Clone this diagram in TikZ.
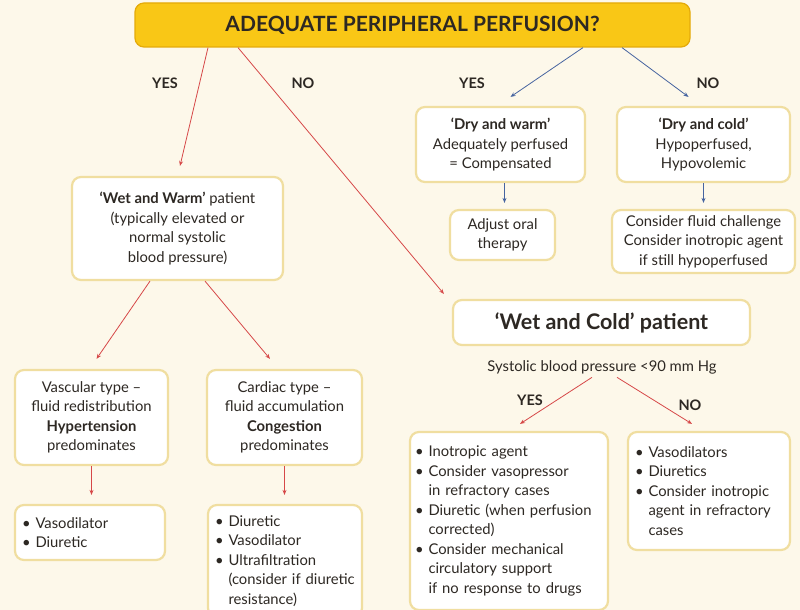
\documentclass[tikz,border=0pt]{standalone}
\usepackage{fontspec}
\setmainfont{Lato}
\usetikzlibrary{arrows.meta,calc}
\definecolor{bgc}{RGB}{253,248,234}
\definecolor{gold}{RGB}{249,199,22}
\definecolor{goldd}{RGB}{228,170,10}
\definecolor{bord}{RGB}{240,222,160}
\definecolor{txt}{RGB}{45,40,35}
\definecolor{redl}{RGB}{214,72,72}
\definecolor{bluel}{RGB}{70,100,160}
\newcommand\bl{\textbullet\ }
\newcommand\ind{\phantom{\textbullet\ }}
\begin{document}
\begin{tikzpicture}[x=1pt,y=-1pt,
  every node/.style={text=txt},
  box/.style={draw=bord,line width=2.2pt,fill=white,rounded corners=9pt,align=center,
    font=\fontsize{14.8}{19.5}\selectfont,inner sep=0pt},
  lbl/.style={font=\bfseries\fontsize{14.5}{16}\selectfont},
  rarr/.style={draw=redl,line width=0.8pt,-{Stealth[length=5pt,width=4pt]}},
  barr/.style={draw=bluel,line width=0.8pt,-{Stealth[length=5pt,width=4pt]}}]
\fill[bgc] (0,0) rectangle (800,610);
\useasboundingbox (0,0) rectangle (800,610);
% top
\node[draw=goldd,line width=1.2pt,fill=gold,rounded corners=9pt,minimum width=555pt,minimum height=44pt,
  font=\bfseries\fontsize{21}{24}\selectfont] (top) at (412.5,25) {ADEQUATE PERIPHERAL PERFUSION?};
\node[lbl] (y1) at (165,83) {YES};
\node[lbl] (n1) at (303,83) {NO};
\node[lbl] (y2) at (472,83) {YES};
\node[lbl] (n2) at (708,83) {NO};
% boxes
\node[box,minimum width=211pt,minimum height=103pt] (ww) at (177.5,228.5)
 {\textbf{‘Wet and Warm’} patient\\(typically elevated or\\normal systolic\\blood pressure)};
\node[box,minimum width=169pt,minimum height=75pt] (dw) at (500.5,144.5)
 {\textbf{‘Dry and warm’}\\Adequately perfused\\= Compensated};
\node[box,minimum width=173pt,minimum height=75pt] (dc) at (703.5,144.5)
 {\textbf{‘Dry and cold’}\\Hypoperfused,\\Hypovolemic};
\node[box,minimum width=105pt,minimum height=50pt] (adj) at (502.5,235)
 {Adjust oral\\therapy};
\node[box,minimum width=183pt,minimum height=63pt] (fl) at (703.5,241.5)
 {Consider fluid challenge\\Consider inotropic agent\\if still hypoperfused};
\node[box,minimum width=297pt,minimum height=45pt,font=\bfseries\fontsize{21.5}{24}\selectfont] (wc) at (601.5,322.5)
 {‘Wet and Cold’ patient};
\node[font=\fontsize{14.8}{16}\selectfont] (sbp) at (602,367) {Systolic blood pressure <90 mm Hg};
\node[lbl] (y3) at (530,400) {YES};
\node[lbl] (n3) at (690,405) {NO};
\node[box,minimum width=198pt,minimum height=178pt,align=left,text width=188pt] (yb) at (509,521)
 {\bl Inotropic agent\\\bl Consider vasopressor\\\ind in refractory cases\\\bl Diuretic (when perfusion\\\ind corrected)\\\bl Consider mechanical\\\ind circulatory support\\\ind if no response to drugs};
\node[box,minimum width=162pt,minimum height=118pt,align=left,text width=148pt] (nb) at (709,491)
 {\bl Vasodilators\\\bl Diuretics\\\bl Consider inotropic\\\ind agent in refractory\\\ind cases};
\node[box,minimum width=153pt,minimum height=95pt] (va) at (91.5,417.5)
 {Vascular type –\\fluid redistribution\\\textbf{Hypertension}\\predominates};
\node[box,minimum width=155pt,minimum height=95pt] (ca) at (284.5,417.5)
 {Cardiac type –\\fluid accumulation\\\textbf{Congestion}\\predominates};
\node[box,minimum width=150pt,minimum height=55pt,align=left,text width=136pt] (vd) at (90,532.5)
 {\bl Vasodilator\\\bl Diuretic};
\node[box,minimum width=154pt,minimum height=112pt,align=left,text width=140pt] (di) at (285,561)
 {\bl Diuretic\\\bl Vasodilator\\\bl Ultrafiltration\\\ind (consider if diuretic\\\ind resistance)};
% arrows
\draw[rarr] ([xshift=-204.5pt]top.south) -- ([yshift=10pt,xshift=2.5pt]ww.north);
\draw[rarr] ([xshift=-174.5pt]top.south) -- ([shift={(-8pt,5pt)}]wc.north west);
\draw[barr] ([xshift=170.5pt]top.south) -- ([shift={(10pt,9pt)}]dw.north);
\draw[barr] ([xshift=209.5pt]top.south) -- ([shift={(-15pt,9pt)}]dc.north);
\draw[barr] ([xshift=4pt]dw.south) -- ([xshift=4pt,yshift=6pt]dw.south |- adj.north);
\draw[barr] (dc.south) -- ([yshift=6pt]dc.south |- fl.north);
\draw[rarr] ([xshift=-27.5pt]ww.south) -- ([shift={(5pt,10pt)}]va.north);
\draw[rarr] ([xshift=27.5pt]ww.south) -- ([shift={(-14.5pt,10pt)}]ca.north);
\draw[rarr] (va.south) -- ([yshift=9pt]va.south |- vd.north);
\draw[rarr] (ca.south) -- ([yshift=9pt]ca.south |- di.north);
\draw[rarr] ([xshift=-10pt]sbp.south) -- ([shift={(11pt,7pt)}]yb.north);
\draw[rarr] ([xshift=15pt]sbp.south) -- ([shift={(-17pt,7pt)}]nb.north);
\end{tikzpicture}
\end{document}
